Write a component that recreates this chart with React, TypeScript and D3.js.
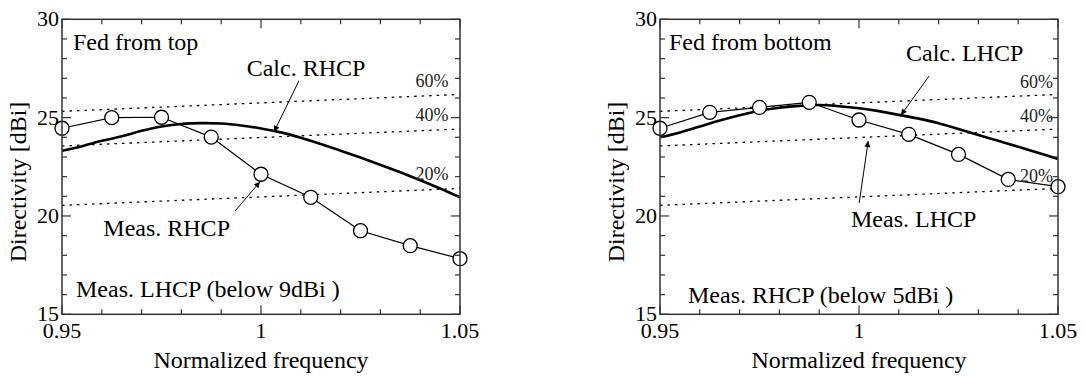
import { scaleLinear, line, curveCatmullRom, range } from 'd3'

// measured points (circles)
const measFreq = [0.95, 0.9625, 0.975, 0.9875, 1.0, 1.0125, 1.025, 1.0375, 1.05]
const measRHCPTop = [24.46, 25.0, 25.02, 24.01, 22.12, 20.95, 19.25, 18.49, 17.83]
const measLHCPBottom = [24.46, 25.27, 25.52, 25.78, 24.88, 24.15, 23.13, 21.86, 21.49]

// calculated curves
const calcFreq = [
  0.95, 0.955, 0.96, 0.965, 0.97, 0.975, 0.98, 0.985, 0.99, 0.995, 1.0,
  1.005, 1.01, 1.015, 1.02, 1.025, 1.03, 1.035, 1.04, 1.045, 1.05,
]
const calcRHCPTop = [
  23.32, 23.55, 23.82, 24.05, 24.33, 24.55, 24.68, 24.72, 24.7, 24.6, 24.45,
  24.25, 23.98, 23.66, 23.32, 22.97, 22.6, 22.22, 21.82, 21.4, 20.95,
]
const calcLHCPBottom = [
  24.0, 24.25, 24.55, 24.85, 25.12, 25.35, 25.5, 25.6, 25.64, 25.58, 25.48,
  25.33, 25.14, 24.95, 24.72, 24.42, 24.12, 23.82, 23.52, 23.21, 22.9,
]

// aperture efficiency reference lines
const effFreq = [0.95, 1.05]
const eff60 = [25.32, 26.18]
const eff40 = [23.56, 24.42]
const eff20 = [20.54, 21.4]

const xTickLabels = [0.95, 1, 1.05]
const yTickLabels = [15, 20, 25, 30]

const W = 398
const TOP = 19.3
const BOTTOM = 314.3
const serif = "'Liberation Serif', 'Times New Roman', Times, 'DejaVu Serif', serif"

type Note = { text: string; x: number; y: number; anchor?: string; size?: number }
type Arrow = { x1: number; y1: number; x2: number; y2: number }

interface PanelProps {
  x0: number
  meas: number[]
  calc: number[]
  notes: Note[]
  arrows: Arrow[]
  id: string
}

function Panel({ x0, meas, calc, notes, arrows, id }: PanelProps) {
  const x = scaleLinear().domain([0.95, 1.05]).range([x0, x0 + W])
  const y = scaleLinear().domain([15, 30]).range([BOTTOM, TOP])

  const calcLine = line<number>()
    .x((_, i) => x(calcFreq[i]))
    .y((d) => y(d))
    .curve(curveCatmullRom)
  const measLine = line<number>()
    .x((_, i) => x(measFreq[i]))
    .y((d) => y(d))
  const effLine = line<number>()
    .x((_, i) => x(effFreq[i]))
    .y((d) => y(d))

  const xMinor = range(0, 11).map((i) => 0.95 + i * 0.01)
  const yMinor = range(15, 31)

  return (
    <g style={{ fontFamily: serif }}>
      <defs>
        <marker id={id} viewBox="0 0 10 10" refX="10" refY="5" markerWidth="8" markerHeight="6" orient="auto" markerUnits="userSpaceOnUse">
          <path d="M0,0 L10,5 L0,10 z" fill="#000" />
        </marker>
      </defs>

      {[eff60, eff40, eff20].map((e, i) => (
        <path key={i} d={effLine(e) ?? ''} fill="none" stroke="#000" strokeWidth={1.3} strokeDasharray="2.5 5" />
      ))}

      <path d={calcLine(calc) ?? ''} fill="none" stroke="#000" strokeWidth={2.6} />
      <path d={measLine(meas) ?? ''} fill="none" stroke="#000" strokeWidth={1.2} />
      {meas.map((d, i) => (
        <circle key={i} cx={x(measFreq[i])} cy={y(d)} r={7} fill="#fff" stroke="#000" strokeWidth={1.3} />
      ))}

      {/* frame and ticks */}
      <rect x={x0} y={TOP} width={W} height={BOTTOM - TOP} fill="none" stroke="#333" strokeWidth={1.5} />
      {xMinor.map((t, i) => {
        const len = i % 5 === 0 ? 9 : 5
        return (
          <g key={'x' + i} stroke="#333" strokeWidth={1.2}>
            <line x1={x(t)} x2={x(t)} y1={BOTTOM} y2={BOTTOM - len} />
            <line x1={x(t)} x2={x(t)} y1={TOP} y2={TOP + len} />
          </g>
        )
      })}
      {yMinor.map((t) => {
        const len = t % 5 === 0 ? 9 : 5
        return (
          <g key={'y' + t} stroke="#333" strokeWidth={1.2}>
            <line x1={x0} x2={x0 + len} y1={y(t)} y2={y(t)} />
            <line x1={x0 + W} x2={x0 + W - len} y1={y(t)} y2={y(t)} />
          </g>
        )
      })}

      <g fontSize={22} fill="#000">
        {xTickLabels.map((t) => (
          <text key={t} x={x(t)} y={338} textAnchor="middle">
            {String(t)}
          </text>
        ))}
        {yTickLabels.map((t) => (
          <text key={t} x={x0 - 3} y={y(t) + 7} textAnchor="end">
            {t}
          </text>
        ))}
      </g>

      <text x={x0 + W / 2} y={368} textAnchor="middle" fontSize={24}>
        Normalized frequency
      </text>
      <text transform={`translate(${x0 - 36},${182}) rotate(-90)`} textAnchor="middle" fontSize={24}>
        Directivity [dBi]
      </text>

      {notes.map((n, i) => (
        <text
          key={i}
          x={x(n.x)}
          y={y(n.y)}
          textAnchor={n.anchor ?? 'start'}
          fontSize={n.size ?? 24}
          fill={n.size ? '#222' : '#000'}
        >
          {n.text}
        </text>
      ))}
      {arrows.map((a, i) => (
        <line
          key={i}
          x1={x(a.x1)}
          y1={y(a.y1)}
          x2={x(a.x2)}
          y2={y(a.y2)}
          stroke="#000"
          strokeWidth={1}
          markerEnd={`url(#${id})`}
        />
      ))}
    </g>
  )
}

const topNotes: Note[] = [
  { text: 'Fed from top', x: 0.95276, y: 28.44 },
  { text: 'Calc. RHCP', x: 0.99641, y: 27.11 },
  { text: '60%', x: 1.04711, y: 26.54, anchor: 'end', size: 18 },
  { text: '40%', x: 1.04711, y: 24.84, anchor: 'end', size: 18 },
  { text: '20%', x: 1.04711, y: 21.83, anchor: 'end', size: 18 },
  { text: 'Meas. RHCP', x: 0.96038, y: 18.98 },
  { text: 'Meas. LHCP (below 9dBi )', x: 0.95352, y: 15.89 },
]
const topArrows: Arrow[] = [
  { x1: 1.00955, y1: 26.88, x2: 1.00327, y2: 24.28 },
  { x1: 0.99347, y1: 20.25, x2: 0.99975, y2: 21.74 },
]

const bottomNotes: Note[] = [
  { text: 'Fed from bottom', x: 0.95226, y: 28.44 },
  { text: 'Calc. LHCP', x: 1.01181, y: 27.88 },
  { text: '60%', x: 1.04874, y: 26.49, anchor: 'end', size: 18 },
  { text: '40%', x: 1.04874, y: 24.79, anchor: 'end', size: 18 },
  { text: '20%', x: 1.04874, y: 21.73, anchor: 'end', size: 18 },
  { text: 'Meas. LHCP', x: 0.99799, y: 19.44 },
  { text: 'Meas. RHCP (below 5dBi )', x: 0.95704, y: 15.57 },
]
const bottomArrows: Arrow[] = [
  { x1: 1.01759, y1: 27.11, x2: 1.01055, y2: 25.13 },
  { x1: 1.00005, y1: 20.66, x2: 1.00231, y2: 23.81 },
]

export default function App() {
  return (
    <svg width={1085} height={376} style={{ position: 'absolute', left: 0, top: 0, background: '#fff' }}>
      <Panel x0={62} meas={measRHCPTop} calc={calcRHCPTop} notes={topNotes} arrows={topArrows} id="arrTop" />
      <Panel x0={660} meas={measLHCPBottom} calc={calcLHCPBottom} notes={bottomNotes} arrows={bottomArrows} id="arrBottom" />
    </svg>
  )
}
